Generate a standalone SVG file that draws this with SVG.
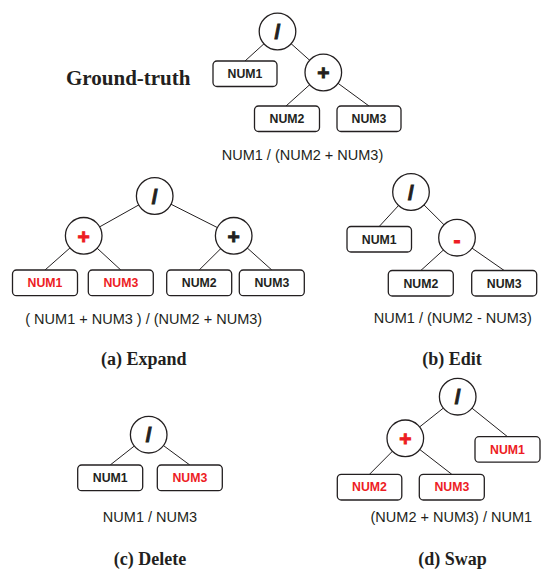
<svg xmlns="http://www.w3.org/2000/svg" width="541" height="570" viewBox="0 0 541 570">
<style>
.bg{fill:#ffffff}
.edge{stroke:#231f20;stroke-width:1;fill:none}
.op{fill:#ffffff;stroke:#231f20;stroke-width:1.3}
.box{fill:#ffffff;stroke:#231f20;stroke-width:1.3}
.bt{font-family:"Liberation Sans",Arial,sans-serif;font-weight:bold;font-size:12.3px;fill:#231f20;text-anchor:middle}
.ot{font-family:"Liberation Sans",Arial,sans-serif;font-weight:bold;font-size:21px;fill:#231f20;stroke:#231f20;stroke-width:0.9;text-anchor:middle}
.bt.red{fill:#ed1c24}
.ot.red{fill:#ed1c24;stroke:#ed1c24}
.ex{font-family:"Liberation Sans",Arial,sans-serif;font-size:14.5px;fill:#231f20;text-anchor:middle}
.cap{font-family:"Liberation Serif","Times New Roman",serif;font-weight:bold;font-size:18px;fill:#231f20;text-anchor:middle}
.gt{font-family:"Liberation Serif","Times New Roman",serif;font-weight:bold;font-size:21px;fill:#231f20}
</style>
<rect class="bg" x="0" y="0" width="541" height="570"/>

<g id="connectors">
  <line class="edge" x1="277.5" y1="31.5" x2="245" y2="61"/>
  <line class="edge" x1="277.5" y1="31.5" x2="323.3" y2="72.5"/>
  <line class="edge" x1="323.3" y1="72.5" x2="286" y2="106"/>
  <line class="edge" x1="323.3" y1="72.5" x2="369" y2="106"/>
  <line class="edge" x1="154.7" y1="196" x2="83.7" y2="235.8"/>
  <line class="edge" x1="154.7" y1="196" x2="233.7" y2="235.8"/>
  <line class="edge" x1="83.7" y1="235.8" x2="45" y2="270"/>
  <line class="edge" x1="83.7" y1="235.8" x2="120.8" y2="270"/>
  <line class="edge" x1="233.7" y1="235.8" x2="199.2" y2="270"/>
  <line class="edge" x1="233.7" y1="235.8" x2="271.8" y2="270"/>
  <line class="edge" x1="411" y1="192" x2="379.2" y2="226.5"/>
  <line class="edge" x1="411" y1="192" x2="457" y2="237.7"/>
  <line class="edge" x1="457" y1="237.7" x2="420.8" y2="270.5"/>
  <line class="edge" x1="457" y1="237.7" x2="504.2" y2="270.5"/>
  <line class="edge" x1="148.7" y1="434.7" x2="110.2" y2="465"/>
  <line class="edge" x1="148.7" y1="434.7" x2="189.8" y2="465"/>
  <line class="edge" x1="457.7" y1="396.7" x2="405.3" y2="438.3"/>
  <line class="edge" x1="457.7" y1="396.7" x2="507.5" y2="436.7"/>
  <line class="edge" x1="405.3" y1="438.3" x2="369.5" y2="474.3"/>
  <line class="edge" x1="405.3" y1="438.3" x2="451.8" y2="474.3"/>
</g>

<text class="gt" x="66" y="84.5">Ground-truth</text>
<g id="gt-div"><circle class="op" cx="277.5" cy="31.5" r="18.3"/><text class="ot" x="277.5" y="39">/</text></g>
<g id="gt-num1"><rect class="box" x="213" y="61" width="64" height="25.5" rx="4"/><text class="bt" x="245" y="78">NUM1</text></g>
<g id="gt-plus"><circle class="op" cx="323.3" cy="72.5" r="18.3"/><text class="ot" x="323.3" y="80">+</text></g>
<g id="gt-num2"><rect class="box" x="254.5" y="106" width="65" height="25.5" rx="4"/><text class="bt" x="287" y="123">NUM2</text></g>
<g id="gt-num3"><rect class="box" x="337" y="106" width="64" height="25.5" rx="4"/><text class="bt" x="369" y="123">NUM3</text></g>
<text class="ex" x="302.5" y="159.5">NUM1 / (NUM2 + NUM3)</text>

<g id="a-div"><circle class="op" cx="154.7" cy="196" r="18.3"/><text class="ot" x="154.7" y="203.5">/</text></g>
<g id="a-plus1"><circle class="op" cx="83.7" cy="235.8" r="18.3"/><text class="ot red" x="83.7" y="243.5">+</text></g>
<g id="a-plus2"><circle class="op" cx="233.7" cy="235.8" r="18.3"/><text class="ot" x="233.7" y="243.5">+</text></g>
<g id="a-num1"><rect class="box" x="12.5" y="270" width="65" height="25.7" rx="4"/><text class="bt red" x="45" y="287">NUM1</text></g>
<g id="a-num3a"><rect class="box" x="88.3" y="270" width="65" height="25.7" rx="4"/><text class="bt red" x="120.8" y="287">NUM3</text></g>
<g id="a-num2"><rect class="box" x="166.7" y="270" width="65" height="25.7" rx="4"/><text class="bt" x="199.2" y="287">NUM2</text></g>
<g id="a-num3b"><rect class="box" x="239.3" y="270" width="65" height="25.7" rx="4"/><text class="bt" x="271.8" y="287">NUM3</text></g>
<text class="ex" x="143.7" y="323.5">( NUM1 + NUM3 ) / (NUM2 + NUM3)</text>
<text class="cap" x="143.7" y="364.5">(a) Expand</text>

<g id="b-div"><circle class="op" cx="411" cy="192" r="18.3"/><text class="ot" x="411" y="199.5">/</text></g>
<g id="b-num1"><rect class="box" x="347" y="226.5" width="64.5" height="25.5" rx="4"/><text class="bt" x="379.2" y="243.5">NUM1</text></g>
<g id="b-minus"><circle class="op" cx="457" cy="237.7" r="18.3"/><text class="ot red" x="457" y="246.5">-</text></g>
<g id="b-num2"><rect class="box" x="388.3" y="270.5" width="65" height="25.5" rx="4"/><text class="bt" x="420.8" y="287.5">NUM2</text></g>
<g id="b-num3"><rect class="box" x="471.7" y="270.5" width="65" height="25.5" rx="4"/><text class="bt" x="504.2" y="287.5">NUM3</text></g>
<text class="ex" x="452.8" y="322.7">NUM1 / (NUM2 - NUM3)</text>
<text class="cap" x="452" y="364.5">(b) Edit</text>

<g id="c-div"><circle class="op" cx="148.7" cy="434.7" r="18.3"/><text class="ot" x="148.7" y="442.2">/</text></g>
<g id="c-num1"><rect class="box" x="77.7" y="465" width="65" height="25.7" rx="4"/><text class="bt" x="110.2" y="482">NUM1</text></g>
<g id="c-num3"><rect class="box" x="157.3" y="465" width="65" height="25.7" rx="4"/><text class="bt red" x="189.8" y="482">NUM3</text></g>
<text class="ex" x="150" y="521.5">NUM1 / NUM3</text>
<text class="cap" x="150" y="564.5">(c) Delete</text>

<g id="d-div"><circle class="op" cx="457.7" cy="396.7" r="18.3"/><text class="ot" x="457.7" y="404.2">/</text></g>
<g id="d-plus"><circle class="op" cx="405.3" cy="438.3" r="18.3"/><text class="ot red" x="405.3" y="446">+</text></g>
<g id="d-num1"><rect class="box" x="475" y="436.7" width="65" height="25.5" rx="4"/><text class="bt red" x="507.5" y="453.7">NUM1</text></g>
<g id="d-num2"><rect class="box" x="337.3" y="474.3" width="64.5" height="25.7" rx="4"/><text class="bt red" x="369.5" y="491.3">NUM2</text></g>
<g id="d-num3"><rect class="box" x="419.3" y="474.3" width="65" height="25.7" rx="4"/><text class="bt red" x="451.8" y="491.3">NUM3</text></g>
<text class="ex" x="451.3" y="521.5">(NUM2 + NUM3) / NUM1</text>
<text class="cap" x="452.5" y="564.5">(d) Swap</text>
</svg>
